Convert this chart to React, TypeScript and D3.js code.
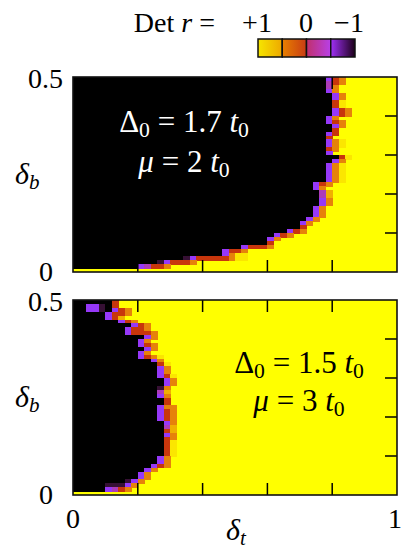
import * as d3 from "d3";

// grid of the two maps: δt in 50 steps (0..1), δb in 50 steps (0..0.5)
const nCols = 50;
const nRows = 50;

// rows listed from δb = 0.5 (top) down to δb = 0
// start = first column that is not black, cells = boundary cells read from the picture, yellow after them
// codes: K black (Det r = -1), D dark, P purple, M magenta, R red, O orange, L light orange, y pale yellow, Y yellow (+1)
const topStart = [
  39, 39, 39, 39, 40, 40, 40, 40, 40, 40,
  39, 39, 40, 40, 39, 39, 39, 39, 39, 39,
  41, 40, 39, 39, 39, 39, 39, 37, 37, 38,
  38, 38, 38, 37, 37, 37, 36, 35, 35, 33,
  31, 30, 30, 26, 23, 23, 17, 13, 10, 0,
];
const topCells = [
  "PRO", "MRO", "MO", "PO", "PO", "PO", "Ry", "Ry", "PRO", "PRO",
  "PO", "PRO", "PO", "R", "PR", "R", "POy", "POy", "RO", "P",
  "Ry", "PO", "POy", "POy", "POy", "POy", "POy", "PRO", "PO", "ML",
  "ML", "PO", "PO", "PO", "PO", "PO", "PO", "PO", "R", "PRO",
  "PRO", "PO", "R", "PRRRO", "PRRO", "POyy", "DPRRRRROyy", "DPRRRO", "PMRRO", "",
];

const bottomStart = [
  6, 2, 2, 5, 5, 7, 9, 8, 8, 11,
  10, 10, 11, 10, 10, 12, 13, 13, 13, 13,
  14, 14, 13, 13, 13, 14, 14, 13, 13, 13,
  13, 14, 14, 14, 14, 14, 14, 14, 14, 14,
  13, 13, 12, 11, 10, 10, 8, 5, 5, 0,
];
const bottomCells = [
  "R", "PPDKR", "PPDKPRO", "PRRO", "PRL", "PRO", "PRO", "PRRO", "PRRRO", "PO",
  "PO", "PRO", "PO", "PO", "PROy", "PO", "Ry", "PO", "PO", "PRy",
  "PO", "PO", "DO", "ML", "PO", "R", "R", "POO", "PRO", "PRO",
  "PRO", "PO", "ML", "RL", "PO", "RO", "Ry", "Ry", "Ry", "Ry",
  "PO", "PO", "PRO", "PO", "PO", "PO", "DPO", "DDDPO", "PMRO", "",
];

const codeColor: Record<string, string> = {
  K: "#000000",
  D: "#361034",
  P: "#9638f8",
  M: "#ac3cb8",
  R: "#c8360c",
  O: "#e6820a",
  L: "#f0b000",
  y: "#fbe600",
  Y: "#ffff00",
};

const cbarLabels = ["+1", "0", "\u22121"];
const xTickLabels = ["0", "1"];
const yTickLabels = ["0", "0.5"];

const W = 403;
const H = 550;
const serif = '"Liberation Serif", "DejaVu Serif", "Times New Roman", serif';
const tx = { fontFamily: serif };

const x = d3.scaleLinear().domain([0, 1]).range([73, 397]);

interface PanelProps {
  top: number;
  bottom: number;
  start: number[];
  cells: string[];
  textColor: string;
  line1: string;
  line2: string;
  cx: number;
  y1: number;
  y2: number;
}

const Panel = ({ top, bottom, start, cells, textColor, line1, line2, cx, y1, y2 }: PanelProps) => {
  const y = d3.scaleLinear().domain([0, 0.5]).range([bottom, top]);
  const dt = 1 / nCols;
  const db = 0.5 / nRows;
  const fs = 31;
  return (
    <g>
      <rect x={x(0)} y={top} width={x(1) - x(0)} height={bottom - top} fill={codeColor.Y} />
      <g shapeRendering="crispEdges">
        {start.map((s, r) => {
          const yTop = y(0.5 - r * db);
          const yBot = y(0.5 - (r + 1) * db);
          const h = yBot - yTop + 0.6;
          return (
            <g key={r}>
              {s > 0 && <rect x={x(0)} y={yTop} width={x(s * dt) - x(0)} height={h} fill={codeColor.K} />}
              {cells[r].split("").map((c, k) => (
                <rect
                  key={k}
                  x={x((s + k) * dt)}
                  y={yTop}
                  width={x(dt) - x(0) + 0.4}
                  height={h}
                  fill={codeColor[c]}
                />
              ))}
            </g>
          );
        })}
      </g>
      {/* ticks */}
      {[0.2, 0.4, 0.6, 0.8].map((t) => (
        <g key={"xt" + t} stroke="#000" strokeWidth={1.5}>
          <line x1={x(t)} x2={x(t)} y1={bottom} y2={bottom - 12} />
          <line x1={x(t)} x2={x(t)} y1={top} y2={top + 12} />
        </g>
      ))}
      {[0.1, 0.2, 0.3, 0.4].map((t) => (
        <g key={"yt" + t} stroke="#000" strokeWidth={1.5}>
          <line x1={x(0)} x2={x(0) + 12} y1={y(t)} y2={y(t)} />
          <line x1={x(1)} x2={x(1) - 12} y1={y(t)} y2={y(t)} />
        </g>
      ))}
      <rect x={x(0)} y={top} width={x(1) - x(0)} height={bottom - top} fill="none" stroke="#111" strokeWidth={1.6} />
      {/* y tick labels */}
      <text x={63} y={y(0.5) + 11} textAnchor="end" fontSize={28} style={tx}>{yTickLabels[1]}</text>
      <text x={53} y={y(0) + 9} textAnchor="end" fontSize={28} style={tx}>{yTickLabels[0]}</text>
      {/* axis label */}
      <text x={15} y={y(0.25) + 9} fontSize={30} style={tx}>
        <tspan fontStyle="italic">{"\u03b4"}</tspan>
        <tspan fontSize={21} fontStyle="italic" dy={5}>b</tspan>
      </text>
      {/* annotation */}
      <text x={cx} y={y1} textAnchor="middle" fontSize={fs} style={tx} fill={textColor}>
        <tspan>{"\u0394"}</tspan>
        <tspan fontSize={fs * 0.7} dy={5}>0</tspan>
        <tspan dy={-5}>{" = " + line1 + " "}</tspan>
        <tspan fontStyle="italic">t</tspan>
        <tspan fontSize={fs * 0.7} dy={5}>0</tspan>
      </text>
      <text x={cx} y={y2} textAnchor="middle" fontSize={fs} style={tx} fill={textColor}>
        <tspan fontStyle="italic">{"\u03bc"}</tspan>
        <tspan>{" = " + line2 + " "}</tspan>
        <tspan fontStyle="italic">t</tspan>
        <tspan fontSize={fs * 0.7} dy={5}>0</tspan>
      </text>
    </g>
  );
};

const cbarStops = [
  ["#f6e600", "#eea800"],
  ["#e88000", "#c83c14"],
  ["#c0306c", "#b840e8"],
  ["#a030f8", "#1c0018"],
];

const ColorBar = () => {
  const cb = d3.scaleLinear().domain([0, 4]).range([258, 355]);
  return (
    <g>
      <defs>
        {cbarStops.map((s, i) => (
          <linearGradient key={i} id={"cb" + i} x1="0" x2="1" y1="0" y2="0">
            <stop offset="0" stopColor={s[0]} />
            <stop offset="1" stopColor={s[1]} />
          </linearGradient>
        ))}
      </defs>
      {cbarStops.map((_, i) => (
        <rect key={i} x={cb(i)} y={39} width={cb(i + 1) - cb(i)} height={18} fill={`url(#cb${i})`} stroke="#111" strokeWidth={1.5} />
      ))}
      <text x={215} y={32} textAnchor="end" fontSize={28} style={tx}>
        Det <tspan fontStyle="italic">r</tspan> =
      </text>
      {cbarLabels.map((l, i) => (
        <text key={l} x={[257, 306, 349][i]} y={32} textAnchor="middle" fontSize={28} style={tx}>{l}</text>
      ))}
    </g>
  );
};

export default function App() {
  return (
    <svg width={W} height={H} style={{ position: "absolute", left: 0, top: 0, background: "#fff" }}>
      <ColorBar />
      <Panel
        top={77}
        bottom={272}
        start={topStart}
        cells={topCells}
        textColor="#fff"
        line1="1.7"
        line2="2"
        cx={184}
        y1={132}
        y2={172}
      />
      <Panel
        top={300}
        bottom={495}
        start={bottomStart}
        cells={bottomCells}
        textColor="#000"
        line1="1.5"
        line2="3"
        cx={299}
        y1={373}
        y2={411}
      />
      <text x={x(0)} y={528} textAnchor="middle" fontSize={28} style={tx}>{xTickLabels[0]}</text>
      <text x={x(1) - 2} y={528} textAnchor="middle" fontSize={28} style={tx}>{xTickLabels[1]}</text>
      <text x={226} y={540} fontSize={30} style={tx}>
        <tspan fontStyle="italic">{"\u03b4"}</tspan>
        <tspan fontSize={21} fontStyle="italic" dy={5}>t</tspan>
      </text>
    </svg>
  );
}
